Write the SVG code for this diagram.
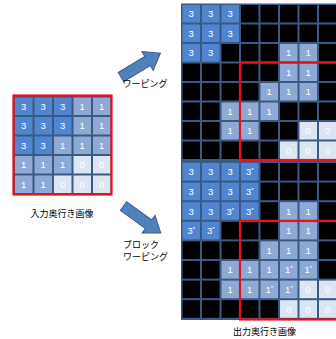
<svg xmlns="http://www.w3.org/2000/svg" width="336" height="339" viewBox="0 0 336 339">
<style>
.bg{fill:#3a5985}
.k{fill:#000}
.a{fill:#4f86cf}
.b{fill:#8eaad4}
.c{fill:#dce5f2}
.d{font-family:"Liberation Sans",Arial,sans-serif;font-size:9.5px;fill:#fff;text-anchor:middle}
.s{font-size:6px}
.red{fill:none;stroke:#e8101a;stroke-width:2.2}
.lbl{font-family:"Noto Sans CJK JP","Noto Sans",sans-serif;font-size:9px;fill:#000}
.arw{fill:#4f81bd;stroke:#385d8a;stroke-width:1}
</style>
<defs>
<polygon id="ar" points="0,-5.3 31,-5.3 31,-11 46,0 31,11 31,5.3 0,5.3"/>
</defs>
<rect width="336" height="339" fill="#fff"/>

<g id="input">
<rect class="bg" x="13.5" y="96" width="98.5" height="98.5"/>
<g>
<rect class="a" x="15" y="97.5" width="17.5" height="17.5"/><rect class="a" x="34.5" y="97.5" width="17.5" height="17.5"/><rect class="a" x="54" y="97.5" width="17.5" height="17.5"/><rect class="b" x="73.5" y="97.5" width="17.5" height="17.5"/><rect class="b" x="93" y="97.5" width="17.5" height="17.5"/>
<rect class="a" x="15" y="117" width="17.5" height="17.5"/><rect class="a" x="34.5" y="117" width="17.5" height="17.5"/><rect class="a" x="54" y="117" width="17.5" height="17.5"/><rect class="b" x="73.5" y="117" width="17.5" height="17.5"/><rect class="b" x="93" y="117" width="17.5" height="17.5"/>
<rect class="a" x="15" y="136.5" width="17.5" height="17.5"/><rect class="a" x="34.5" y="136.5" width="17.5" height="17.5"/><rect class="b" x="54" y="136.5" width="17.5" height="17.5"/><rect class="b" x="73.5" y="136.5" width="17.5" height="17.5"/><rect class="b" x="93" y="136.5" width="17.5" height="17.5"/>
<rect class="b" x="15" y="156" width="17.5" height="17.5"/><rect class="b" x="34.5" y="156" width="17.5" height="17.5"/><rect class="b" x="54" y="156" width="17.5" height="17.5"/><rect class="c" x="73.5" y="156" width="17.5" height="17.5"/><rect class="c" x="93" y="156" width="17.5" height="17.5"/>
<rect class="b" x="15" y="175.5" width="17.5" height="17.5"/><rect class="b" x="34.5" y="175.5" width="17.5" height="17.5"/><rect class="c" x="54" y="175.5" width="17.5" height="17.5"/><rect class="c" x="73.5" y="175.5" width="17.5" height="17.5"/><rect class="c" x="93" y="175.5" width="17.5" height="17.5"/>
</g>
<g class="d">
<text x="23.75" y="109.8">3</text><text x="43.25" y="109.8">3</text><text x="62.75" y="109.8">3</text><text x="82.25" y="109.8">1</text><text x="101.75" y="109.8">1</text>
<text x="23.75" y="129.3">3</text><text x="43.25" y="129.3">3</text><text x="62.75" y="129.3">3</text><text x="82.25" y="129.3">1</text><text x="101.75" y="129.3">1</text>
<text x="23.75" y="148.8">3</text><text x="43.25" y="148.8">3</text><text x="62.75" y="148.8">1</text><text x="82.25" y="148.8">1</text><text x="101.75" y="148.8">1</text>
<text x="23.75" y="168.3">1</text><text x="43.25" y="168.3">1</text><text x="62.75" y="168.3">1</text><text x="82.25" y="168.3">0</text><text x="101.75" y="168.3">0</text>
<text x="23.75" y="187.8">1</text><text x="43.25" y="187.8">1</text><text x="62.75" y="187.8">0</text><text x="82.25" y="187.8">0</text><text x="101.75" y="187.8">0</text>
</g>
<rect class="red" x="13.5" y="95.5" width="98" height="99"/>
<text class="lbl" x="62" y="217" text-anchor="middle">入力奥行き画像</text>
</g>

<g id="output">
<rect class="bg" x="181" y="3.5" width="160" height="316.5"/>
<g id="warped">
<rect class="a" x="182.5" y="5" width="17.5" height="17.5"/><rect class="a" x="202" y="5" width="17.5" height="17.5"/><rect class="a" x="221.5" y="5" width="17.5" height="17.5"/><rect class="k" x="241" y="5" width="17.5" height="17.5"/><rect class="k" x="260.5" y="5" width="17.5" height="17.5"/><rect class="k" x="280" y="5" width="17.5" height="17.5"/><rect class="k" x="299.5" y="5" width="17.5" height="17.5"/><rect class="k" x="319" y="5" width="17.5" height="17.5"/>
<rect class="a" x="182.5" y="24.5" width="17.5" height="17.5"/><rect class="a" x="202" y="24.5" width="17.5" height="17.5"/><rect class="a" x="221.5" y="24.5" width="17.5" height="17.5"/><rect class="k" x="241" y="24.5" width="17.5" height="17.5"/><rect class="k" x="260.5" y="24.5" width="17.5" height="17.5"/><rect class="k" x="280" y="24.5" width="17.5" height="17.5"/><rect class="k" x="299.5" y="24.5" width="17.5" height="17.5"/><rect class="k" x="319" y="24.5" width="17.5" height="17.5"/>
<rect class="a" x="182.5" y="44" width="17.5" height="17.5"/><rect class="a" x="202" y="44" width="17.5" height="17.5"/><rect class="k" x="221.5" y="44" width="17.5" height="17.5"/><rect class="k" x="241" y="44" width="17.5" height="17.5"/><rect class="k" x="260.5" y="44" width="17.5" height="17.5"/><rect class="b" x="280" y="44" width="17.5" height="17.5"/><rect class="b" x="299.5" y="44" width="17.5" height="17.5"/><rect class="k" x="319" y="44" width="17.5" height="17.5"/>
<rect class="k" x="182.5" y="63.5" width="17.5" height="17.5"/><rect class="k" x="202" y="63.5" width="17.5" height="17.5"/><rect class="k" x="221.5" y="63.5" width="17.5" height="17.5"/><rect class="k" x="241" y="63.5" width="17.5" height="17.5"/><rect class="k" x="260.5" y="63.5" width="17.5" height="17.5"/><rect class="b" x="280" y="63.5" width="17.5" height="17.5"/><rect class="b" x="299.5" y="63.5" width="17.5" height="17.5"/><rect class="k" x="319" y="63.5" width="17.5" height="17.5"/>
<rect class="k" x="182.5" y="83" width="17.5" height="17.5"/><rect class="k" x="202" y="83" width="17.5" height="17.5"/><rect class="k" x="221.5" y="83" width="17.5" height="17.5"/><rect class="k" x="241" y="83" width="17.5" height="17.5"/><rect class="b" x="260.5" y="83" width="17.5" height="17.5"/><rect class="b" x="280" y="83" width="17.5" height="17.5"/><rect class="b" x="299.5" y="83" width="17.5" height="17.5"/><rect class="k" x="319" y="83" width="17.5" height="17.5"/>
<rect class="k" x="182.5" y="102.5" width="17.5" height="17.5"/><rect class="k" x="202" y="102.5" width="17.5" height="17.5"/><rect class="b" x="221.5" y="102.5" width="17.5" height="17.5"/><rect class="b" x="241" y="102.5" width="17.5" height="17.5"/><rect class="b" x="260.5" y="102.5" width="17.5" height="17.5"/><rect class="k" x="280" y="102.5" width="17.5" height="17.5"/><rect class="k" x="299.5" y="102.5" width="17.5" height="17.5"/><rect class="k" x="319" y="102.5" width="17.5" height="17.5"/>
<rect class="k" x="182.5" y="122" width="17.5" height="17.5"/><rect class="k" x="202" y="122" width="17.5" height="17.5"/><rect class="b" x="221.5" y="122" width="17.5" height="17.5"/><rect class="b" x="241" y="122" width="17.5" height="17.5"/><rect class="k" x="260.5" y="122" width="17.5" height="17.5"/><rect class="k" x="280" y="122" width="17.5" height="17.5"/><rect class="c" x="299.5" y="122" width="17.5" height="17.5"/><rect class="c" x="319" y="122" width="17.5" height="17.5"/>
<rect class="k" x="182.5" y="141.5" width="17.5" height="17.5"/><rect class="k" x="202" y="141.5" width="17.5" height="17.5"/><rect class="k" x="221.5" y="141.5" width="17.5" height="17.5"/><rect class="k" x="241" y="141.5" width="17.5" height="17.5"/><rect class="k" x="260.5" y="141.5" width="17.5" height="17.5"/><rect class="c" x="280" y="141.5" width="17.5" height="17.5"/><rect class="c" x="299.5" y="141.5" width="17.5" height="17.5"/><rect class="c" x="319" y="141.5" width="17.5" height="17.5"/>
<g class="d">
<text x="191.25" y="17.3">3</text><text x="210.75" y="17.3">3</text><text x="230.25" y="17.3">3</text>
<text x="191.25" y="36.8">3</text><text x="210.75" y="36.8">3</text><text x="230.25" y="36.8">3</text>
<text x="191.25" y="56.3">3</text><text x="210.75" y="56.3">3</text><text x="288.75" y="56.3">1</text><text x="308.25" y="56.3">1</text>
<text x="288.75" y="75.8">1</text><text x="308.25" y="75.8">1</text>
<text x="269.25" y="95.3">1</text><text x="288.75" y="95.3">1</text><text x="308.25" y="95.3">1</text>
<text x="230.25" y="114.8">1</text><text x="249.75" y="114.8">1</text><text x="269.25" y="114.8">1</text>
<text x="230.25" y="134.3">1</text><text x="249.75" y="134.3">1</text><text x="308.25" y="134.3">0</text><text x="327.75" y="134.3">0</text>
<text x="288.75" y="153.8">0</text><text x="308.25" y="153.8">0</text><text x="327.75" y="153.8">0</text>
</g>
<rect class="red" x="240" y="62.5" width="100" height="97.5"/>
</g>
<g id="block">
<rect class="a" x="182.5" y="163" width="17.5" height="17.6"/><rect class="a" x="202" y="163" width="17.5" height="17.6"/><rect class="a" x="221.5" y="163" width="17.5" height="17.6"/><rect class="a" x="241" y="163" width="17.5" height="17.6"/><rect class="k" x="260.5" y="163" width="17.5" height="17.6"/><rect class="k" x="280" y="163" width="17.5" height="17.6"/><rect class="k" x="299.5" y="163" width="17.5" height="17.6"/><rect class="k" x="319" y="163" width="17.5" height="17.6"/>
<rect class="a" x="182.5" y="182.6" width="17.5" height="17.6"/><rect class="a" x="202" y="182.6" width="17.5" height="17.6"/><rect class="a" x="221.5" y="182.6" width="17.5" height="17.6"/><rect class="a" x="241" y="182.6" width="17.5" height="17.6"/><rect class="k" x="260.5" y="182.6" width="17.5" height="17.6"/><rect class="k" x="280" y="182.6" width="17.5" height="17.6"/><rect class="k" x="299.5" y="182.6" width="17.5" height="17.6"/><rect class="k" x="319" y="182.6" width="17.5" height="17.6"/>
<rect class="a" x="182.5" y="202.2" width="17.5" height="17.6"/><rect class="a" x="202" y="202.2" width="17.5" height="17.6"/><rect class="a" x="221.5" y="202.2" width="17.5" height="17.6"/><rect class="a" x="241" y="202.2" width="17.5" height="17.6"/><rect class="k" x="260.5" y="202.2" width="17.5" height="17.6"/><rect class="b" x="280" y="202.2" width="17.5" height="17.6"/><rect class="b" x="299.5" y="202.2" width="17.5" height="17.6"/><rect class="k" x="319" y="202.2" width="17.5" height="17.6"/>
<rect class="a" x="182.5" y="221.8" width="17.5" height="17.6"/><rect class="a" x="202" y="221.8" width="17.5" height="17.6"/><rect class="k" x="221.5" y="221.8" width="17.5" height="17.6"/><rect class="k" x="241" y="221.8" width="17.5" height="17.6"/><rect class="k" x="260.5" y="221.8" width="17.5" height="17.6"/><rect class="b" x="280" y="221.8" width="17.5" height="17.6"/><rect class="b" x="299.5" y="221.8" width="17.5" height="17.6"/><rect class="k" x="319" y="221.8" width="17.5" height="17.6"/>
<rect class="k" x="182.5" y="241.4" width="17.5" height="17.6"/><rect class="k" x="202" y="241.4" width="17.5" height="17.6"/><rect class="k" x="221.5" y="241.4" width="17.5" height="17.6"/><rect class="k" x="241" y="241.4" width="17.5" height="17.6"/><rect class="b" x="260.5" y="241.4" width="17.5" height="17.6"/><rect class="b" x="280" y="241.4" width="17.5" height="17.6"/><rect class="b" x="299.5" y="241.4" width="17.5" height="17.6"/><rect class="k" x="319" y="241.4" width="17.5" height="17.6"/>
<rect class="k" x="182.5" y="261" width="17.5" height="17.6"/><rect class="k" x="202" y="261" width="17.5" height="17.6"/><rect class="b" x="221.5" y="261" width="17.5" height="17.6"/><rect class="b" x="241" y="261" width="17.5" height="17.6"/><rect class="b" x="260.5" y="261" width="17.5" height="17.6"/><rect class="b" x="280" y="261" width="17.5" height="17.6"/><rect class="b" x="299.5" y="261" width="17.5" height="17.6"/><rect class="k" x="319" y="261" width="17.5" height="17.6"/>
<rect class="k" x="182.5" y="280.6" width="17.5" height="17.6"/><rect class="k" x="202" y="280.6" width="17.5" height="17.6"/><rect class="b" x="221.5" y="280.6" width="17.5" height="17.6"/><rect class="b" x="241" y="280.6" width="17.5" height="17.6"/><rect class="b" x="260.5" y="280.6" width="17.5" height="17.6"/><rect class="b" x="280" y="280.6" width="17.5" height="17.6"/><rect class="c" x="299.5" y="280.6" width="17.5" height="17.6"/><rect class="c" x="319" y="280.6" width="17.5" height="17.6"/>
<rect class="k" x="182.5" y="300.2" width="17.5" height="17.6"/><rect class="k" x="202" y="300.2" width="17.5" height="17.6"/><rect class="k" x="221.5" y="300.2" width="17.5" height="17.6"/><rect class="k" x="241" y="300.2" width="17.5" height="17.6"/><rect class="k" x="260.5" y="300.2" width="17.5" height="17.6"/><rect class="c" x="280" y="300.2" width="17.5" height="17.6"/><rect class="c" x="299.5" y="300.2" width="17.5" height="17.6"/><rect class="c" x="319" y="300.2" width="17.5" height="17.6"/>
<g class="d">
<text x="191.25" y="175.3">3</text><text x="210.75" y="175.3">3</text><text x="230.25" y="175.3">3</text><text x="249.75" y="175.3">3<tspan class="s" dy="-3">*</tspan></text>
<text x="191.25" y="194.9">3</text><text x="210.75" y="194.9">3</text><text x="230.25" y="194.9">3</text><text x="249.75" y="194.9">3<tspan class="s" dy="-3">*</tspan></text>
<text x="191.25" y="214.5">3</text><text x="210.75" y="214.5">3</text><text x="230.25" y="214.5">3<tspan class="s" dy="-3">*</tspan></text><text x="249.75" y="214.5">3<tspan class="s" dy="-3">*</tspan></text><text x="288.75" y="214.5">1</text><text x="308.25" y="214.5">1</text>
<text x="191.25" y="234.1">3<tspan class="s" dy="-3">*</tspan></text><text x="210.75" y="234.1">3<tspan class="s" dy="-3">*</tspan></text><text x="288.75" y="234.1">1</text><text x="308.25" y="234.1">1</text>
<text x="269.25" y="253.7">1</text><text x="288.75" y="253.7">1</text><text x="308.25" y="253.7">1</text>
<text x="230.25" y="273.3">1</text><text x="249.75" y="273.3">1</text><text x="269.25" y="273.3">1</text><text x="288.75" y="273.3">1<tspan class="s" dy="-3">*</tspan></text><text x="308.25" y="273.3">1<tspan class="s" dy="-3">*</tspan></text>
<text x="230.25" y="292.9">1</text><text x="249.75" y="292.9">1</text><text x="269.25" y="292.9">1<tspan class="s" dy="-3">*</tspan></text><text x="288.75" y="292.9">1<tspan class="s" dy="-3">*</tspan></text><text x="308.25" y="292.9">0</text><text x="327.75" y="292.9">0</text>
<text x="288.75" y="312.5">0</text><text x="308.25" y="312.5">0</text><text x="327.75" y="312.5">0</text>
</g>
<rect class="red" x="240" y="221" width="100" height="98.5"/>
</g>
<text class="lbl" x="264.5" y="334.5" text-anchor="middle">出力奥行き画像</text>
</g>

<g id="connectors">
<use href="#ar" class="arw" transform="translate(121,77) rotate(-31)"/>
<use href="#ar" class="arw" transform="translate(123.5,206) rotate(36)"/>
</g>
<g id="labels">
<text class="lbl" x="145" y="87" text-anchor="middle">ワーピング</text>
<text class="lbl" x="123" y="248">ブロック</text>
<text class="lbl" x="123" y="260">ワーピング</text>
</g>
</svg>
